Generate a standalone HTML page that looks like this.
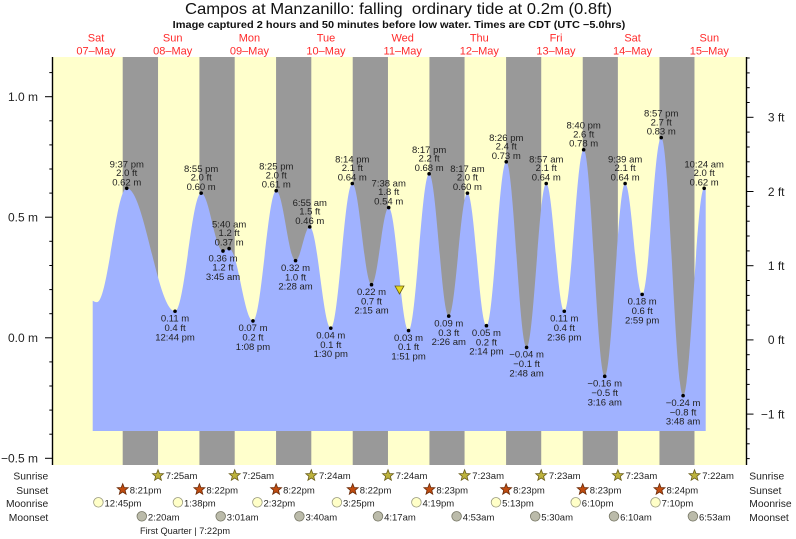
<!DOCTYPE html>
<html><head><meta charset="utf-8"><style>
html,body{margin:0;padding:0;background:#fff;}
svg{display:block;font-family:"Liberation Sans",Arial,sans-serif;}
.lb text{font-size:9.5px;fill:#222;text-anchor:middle;}
.bt{font-size:9.5px;fill:#222;}
.rl{font-size:10.3px;fill:#222;}
</style></head><body>
<svg width="796" height="539" viewBox="0 0 796 539" xmlns="http://www.w3.org/2000/svg">
<rect x="0" y="0" width="796" height="539" fill="#fff"/>
<text x="185" y="14" font-size="16" fill="#111" textLength="427" lengthAdjust="spacingAndGlyphs">Campos at Manzanillo: falling&#160; ordinary tide at 0.2m (0.8ft)</text>
<text x="172.7" y="28" font-size="10" font-weight="bold" fill="#111" textLength="452.6" lengthAdjust="spacingAndGlyphs">Image captured 2 hours and 50 minutes before low water. Times are CDT (UTC −5.0hrs)</text>
<g font-size="11" fill="#ff2a2a" text-anchor="middle">
<text x="96.0" y="41.7">Sat</text><text x="96.0" y="54.5">07–May</text>
<text x="172.7" y="41.7">Sun</text><text x="172.7" y="54.5">08–May</text>
<text x="249.4" y="41.7">Mon</text><text x="249.4" y="54.5">09–May</text>
<text x="326.0" y="41.7">Tue</text><text x="326.0" y="54.5">10–May</text>
<text x="402.7" y="41.7">Wed</text><text x="402.7" y="54.5">11–May</text>
<text x="479.3" y="41.7">Thu</text><text x="479.3" y="54.5">12–May</text>
<text x="556.0" y="41.7">Fri</text><text x="556.0" y="54.5">13–May</text>
<text x="632.6" y="41.7">Sat</text><text x="632.6" y="54.5">14–May</text>
<text x="709.3" y="41.7">Sun</text><text x="709.3" y="54.5">15–May</text>
</g>
<rect x="53" y="57" width="693" height="408" fill="#ffffcc"/>
<g fill="#999999">
<rect x="122.70" y="57" width="35.34" height="408"/>
<rect x="199.41" y="57" width="35.29" height="408"/>
<rect x="276.06" y="57" width="35.24" height="408"/>
<rect x="352.72" y="57" width="35.24" height="408"/>
<rect x="429.43" y="57" width="35.13" height="408"/>
<rect x="506.08" y="57" width="35.14" height="408"/>
<rect x="582.74" y="57" width="35.13" height="408"/>
<rect x="659.45" y="57" width="35.03" height="408"/>
</g>
<path fill="#a0b2ff" d="M92.7 431 L92.7 300.7 C94.5 301.8 95.5 302.1 97 302.1
C107.81 302.1 115.93 188.3 126.74 188.3
C144.29 188.3 157.48 311.25 175.03 311.25
C184.53 311.25 191.66 193.13 201.16 193.13
C209.09 193.13 215.06 250.98 222.99 250.98
C225.21 250.98 226.89 248.57 229.11 248.57
C237.78 248.57 244.29 320.89 252.96 320.89
C261.41 320.89 267.77 190.72 276.22 190.72
C283.24 190.72 288.53 260.63 295.55 260.63
C300.71 260.63 304.60 226.88 309.76 226.88
C317.40 226.88 323.15 328.13 330.79 328.13
C338.60 328.13 344.48 183.49 352.29 183.49
C359.27 183.49 364.53 284.73 371.51 284.73
C377.76 284.73 382.45 207.59 388.70 207.59
C395.92 207.59 401.34 330.54 408.56 330.54
C416.03 330.54 421.64 173.84 429.11 173.84
C436.25 173.84 441.61 316.07 448.75 316.07
C455.54 316.07 460.65 193.13 467.44 193.13
C474.34 193.13 479.54 325.72 486.44 325.72
C493.64 325.72 499.04 161.79 506.24 161.79
C513.63 161.79 519.19 347.41 526.58 347.41
C533.72 347.41 539.08 183.49 546.22 183.49
C552.78 183.49 557.71 311.25 564.27 311.25
C571.31 311.25 576.61 149.74 583.65 149.74
C591.31 149.74 597.07 376.34 604.73 376.34
C612.14 376.34 617.70 183.49 625.11 183.49
C631.30 183.49 635.96 294.38 642.15 294.38
C649.08 294.38 654.28 137.68 661.21 137.68
C669.16 137.68 675.14 395.63 683.09 395.63
C690.75 395.63 696.51 188.30 704.17 188.30
L705.7 188.5 L705.7 431 Z"/>
<!-- axes -->
<g stroke="#000" stroke-width="1.4">
<line x1="52.5" y1="57" x2="52.5" y2="465"/>
<line x1="746.5" y1="57" x2="746.5" y2="465"/>
</g>
<g stroke="#000" stroke-width="1">
<line x1="45" y1="96.7" x2="52.5" y2="96.7"/><line x1="45" y1="217.2" x2="52.5" y2="217.2"/><line x1="45" y1="337.8" x2="52.5" y2="337.8"/><line x1="45" y1="458.3" x2="52.5" y2="458.3"/>
<line x1="49.3" y1="72.6" x2="52.5" y2="72.6"/><line x1="49.3" y1="120.8" x2="52.5" y2="120.8"/><line x1="49.3" y1="144.9" x2="52.5" y2="144.9"/><line x1="49.3" y1="169.0" x2="52.5" y2="169.0"/><line x1="49.3" y1="193.1" x2="52.5" y2="193.1"/><line x1="49.3" y1="241.3" x2="52.5" y2="241.3"/><line x1="49.3" y1="265.5" x2="52.5" y2="265.5"/><line x1="49.3" y1="289.6" x2="52.5" y2="289.6"/><line x1="49.3" y1="313.7" x2="52.5" y2="313.7"/><line x1="49.3" y1="361.9" x2="52.5" y2="361.9"/><line x1="49.3" y1="386.0" x2="52.5" y2="386.0"/><line x1="49.3" y1="410.1" x2="52.5" y2="410.1"/><line x1="49.3" y1="434.2" x2="52.5" y2="434.2"/>
<line x1="746.5" y1="117.3" x2="753.5" y2="117.3"/><line x1="746.5" y1="191.5" x2="753.5" y2="191.5"/><line x1="746.5" y1="265.7" x2="753.5" y2="265.7"/><line x1="746.5" y1="339.9" x2="753.5" y2="339.9"/><line x1="746.5" y1="414.1" x2="753.5" y2="414.1"/>
<line x1="746.5" y1="58.0" x2="749.7" y2="58.0"/><line x1="746.5" y1="72.9" x2="749.7" y2="72.9"/><line x1="746.5" y1="87.7" x2="749.7" y2="87.7"/><line x1="746.5" y1="102.5" x2="749.7" y2="102.5"/>
<line x1="746.5" y1="132.1" x2="749.7" y2="132.1"/><line x1="746.5" y1="147.0" x2="749.7" y2="147.0"/><line x1="746.5" y1="161.8" x2="749.7" y2="161.8"/><line x1="746.5" y1="176.7" x2="749.7" y2="176.7"/>
<line x1="746.5" y1="206.3" x2="749.7" y2="206.3"/><line x1="746.5" y1="221.2" x2="749.7" y2="221.2"/><line x1="746.5" y1="236.0" x2="749.7" y2="236.0"/><line x1="746.5" y1="250.9" x2="749.7" y2="250.9"/>
<line x1="746.5" y1="280.5" x2="749.7" y2="280.5"/><line x1="746.5" y1="295.4" x2="749.7" y2="295.4"/><line x1="746.5" y1="310.2" x2="749.7" y2="310.2"/><line x1="746.5" y1="325.1" x2="749.7" y2="325.1"/>
<line x1="746.5" y1="354.7" x2="749.7" y2="354.7"/><line x1="746.5" y1="369.6" x2="749.7" y2="369.6"/><line x1="746.5" y1="384.4" x2="749.7" y2="384.4"/><line x1="746.5" y1="399.3" x2="749.7" y2="399.3"/>
<line x1="746.5" y1="428.9" x2="749.7" y2="428.9"/><line x1="746.5" y1="443.8" x2="749.7" y2="443.8"/><line x1="746.5" y1="458.6" x2="749.7" y2="458.6"/>
</g>
<g font-size="12" fill="#222" text-anchor="end">
<text x="38" y="101">1.0 m</text><text x="38" y="221.5">0.5 m</text><text x="38" y="342">0.0 m</text><text x="38" y="462.5">−0.5 m</text>
<text x="784.5" y="121.6">3 ft</text><text x="784.5" y="195.8">2 ft</text><text x="784.5" y="270">1 ft</text><text x="784.5" y="344.2">0 ft</text><text x="784.5" y="418.4">−1 ft</text>
</g>
<!-- high labels -->
<g class="lb">
<g transform="translate(126.74,188.3)"><text y="-21">9:37 pm</text><text y="-12.4">2.0 ft</text><text y="-3">0.62 m</text><circle r="1.8" fill="#000"/></g>
<g transform="translate(201.16,193.13)"><text y="-21">8:55 pm</text><text y="-12.4">2.0 ft</text><text y="-3">0.60 m</text><circle r="1.8" fill="#000"/></g>
<g transform="translate(229.11,248.57)"><text y="-21">5:40 am</text><text y="-12.4">1.2 ft</text><text y="-3">0.37 m</text><circle r="1.8" fill="#000"/></g>
<g transform="translate(276.22,190.72)"><text y="-21">8:25 pm</text><text y="-12.4">2.0 ft</text><text y="-3">0.61 m</text><circle r="1.8" fill="#000"/></g>
<g transform="translate(309.76,226.88)"><text y="-21">6:55 am</text><text y="-12.4">1.5 ft</text><text y="-3">0.46 m</text><circle r="1.8" fill="#000"/></g>
<g transform="translate(352.29,183.49)"><text y="-21">8:14 pm</text><text y="-12.4">2.1 ft</text><text y="-3">0.64 m</text><circle r="1.8" fill="#000"/></g>
<g transform="translate(388.70,207.59)"><text y="-21">7:38 am</text><text y="-12.4">1.8 ft</text><text y="-3">0.54 m</text><circle r="1.8" fill="#000"/></g>
<g transform="translate(429.11,173.84)"><text y="-21">8:17 pm</text><text y="-12.4">2.2 ft</text><text y="-3">0.68 m</text><circle r="1.8" fill="#000"/></g>
<g transform="translate(467.44,193.13)"><text y="-21">8:17 am</text><text y="-12.4">2.0 ft</text><text y="-3">0.60 m</text><circle r="1.8" fill="#000"/></g>
<g transform="translate(506.24,161.79)"><text y="-21">8:26 pm</text><text y="-12.4">2.4 ft</text><text y="-3">0.73 m</text><circle r="1.8" fill="#000"/></g>
<g transform="translate(546.22,183.49)"><text y="-21">8:57 am</text><text y="-12.4">2.1 ft</text><text y="-3">0.64 m</text><circle r="1.8" fill="#000"/></g>
<g transform="translate(583.65,149.74)"><text y="-21">8:40 pm</text><text y="-12.4">2.6 ft</text><text y="-3">0.78 m</text><circle r="1.8" fill="#000"/></g>
<g transform="translate(625.11,183.49)"><text y="-21">9:39 am</text><text y="-12.4">2.1 ft</text><text y="-3">0.64 m</text><circle r="1.8" fill="#000"/></g>
<g transform="translate(661.21,137.68)"><text y="-21">8:57 pm</text><text y="-12.4">2.7 ft</text><text y="-3">0.83 m</text><circle r="1.8" fill="#000"/></g>
<g transform="translate(704.17,188.30)"><text y="-21">10:24 am</text><text y="-12.4">2.0 ft</text><text y="-3">0.62 m</text><circle r="1.8" fill="#000"/></g>
<!-- lows -->
<g transform="translate(175.03,311.25)"><circle r="1.8" fill="#000"/><text y="10.3">0.11 m</text><text y="19.7">0.4 ft</text><text y="29">12:44 pm</text></g>
<g transform="translate(222.99,250.98)"><circle r="1.8" fill="#000"/><text y="10.3">0.36 m</text><text y="19.7">1.2 ft</text><text y="29">3:45 am</text></g>
<g transform="translate(252.96,320.89)"><circle r="1.8" fill="#000"/><text y="10.3">0.07 m</text><text y="19.7">0.2 ft</text><text y="29">1:08 pm</text></g>
<g transform="translate(295.55,260.63)"><circle r="1.8" fill="#000"/><text y="10.3">0.32 m</text><text y="19.7">1.0 ft</text><text y="29">2:28 am</text></g>
<g transform="translate(330.79,328.13)"><circle r="1.8" fill="#000"/><text y="10.3">0.04 m</text><text y="19.7">0.1 ft</text><text y="29">1:30 pm</text></g>
<g transform="translate(371.51,284.73)"><circle r="1.8" fill="#000"/><text y="10.3">0.22 m</text><text y="19.7">0.7 ft</text><text y="29">2:15 am</text></g>
<g transform="translate(408.56,330.54)"><circle r="1.8" fill="#000"/><text y="10.3">0.03 m</text><text y="19.7">0.1 ft</text><text y="29">1:51 pm</text></g>
<g transform="translate(448.75,316.07)"><circle r="1.8" fill="#000"/><text y="10.3">0.09 m</text><text y="19.7">0.3 ft</text><text y="29">2:26 am</text></g>
<g transform="translate(486.44,325.72)"><circle r="1.8" fill="#000"/><text y="10.3">0.05 m</text><text y="19.7">0.2 ft</text><text y="29">2:14 pm</text></g>
<g transform="translate(526.58,347.41)"><circle r="1.8" fill="#000"/><text y="10.3">−0.04 m</text><text y="19.7">−0.1 ft</text><text y="29">2:48 am</text></g>
<g transform="translate(564.27,311.25)"><circle r="1.8" fill="#000"/><text y="10.3">0.11 m</text><text y="19.7">0.4 ft</text><text y="29">2:36 pm</text></g>
<g transform="translate(604.73,376.34)"><circle r="1.8" fill="#000"/><text y="10.3">−0.16 m</text><text y="19.7">−0.5 ft</text><text y="29">3:16 am</text></g>
<g transform="translate(642.15,294.38)"><circle r="1.8" fill="#000"/><text y="10.3">0.18 m</text><text y="19.7">0.6 ft</text><text y="29">2:59 pm</text></g>
<g transform="translate(683.09,395.63)"><circle r="1.8" fill="#000"/><text y="10.3">−0.24 m</text><text y="19.7">−0.8 ft</text><text y="29">3:48 am</text></g>
</g>
<!-- current marker -->
<polygon points="395,286 404,286 399.5,294" fill="#e6d820" stroke="#6b6010" stroke-width="0.8"/>
<!-- bottom rows -->
<defs>
<polygon id="star" points="0,-5.8 1.5,-2 5.5,-1.8 2.4,0.8 3.4,4.7 0,2.5 -3.4,4.7 -2.4,0.8 -5.5,-1.8 -1.5,-2"/>
</defs>
<g class="rl" text-anchor="end">
<text x="48.3" y="479.5">Sunrise</text><text x="48.3" y="493.8">Sunset</text><text x="48.3" y="507.2">Moonrise</text><text x="48.3" y="521.2">Moonset</text>
</g>
<g class="rl">
<text x="749.3" y="479.5">Sunrise</text><text x="749.3" y="493.8">Sunset</text><text x="749.3" y="507.2">Moonrise</text><text x="749.3" y="521.2">Moonset</text>
</g>
<g fill="#bcb23c" stroke="#6a5e1c" stroke-width="0.8">
<use href="#star" x="158.0" y="475.5"/><use href="#star" x="234.7" y="475.5"/><use href="#star" x="311.3" y="475.5"/><use href="#star" x="388.0" y="475.5"/><use href="#star" x="464.6" y="475.5"/><use href="#star" x="541.2" y="475.5"/><use href="#star" x="617.9" y="475.5"/><use href="#star" x="694.5" y="475.5"/>
</g>
<g fill="#c04c10" stroke="#6a2a08" stroke-width="0.8">
<use href="#star" x="122.7" y="489.5"/><use href="#star" x="199.4" y="489.5"/><use href="#star" x="276.1" y="489.5"/><use href="#star" x="352.7" y="489.5"/><use href="#star" x="429.4" y="489.5"/><use href="#star" x="506.1" y="489.5"/><use href="#star" x="582.7" y="489.5"/><use href="#star" x="659.5" y="489.5"/>
</g>
<g fill="#ffffc8" stroke="#9a9a80" stroke-width="0.8">
<circle cx="98.4" cy="502.3" r="4.8"/><circle cx="177.9" cy="502.3" r="4.8"/><circle cx="257.4" cy="502.3" r="4.8"/><circle cx="336.9" cy="502.3" r="4.8"/><circle cx="416.4" cy="502.3" r="4.8"/><circle cx="496.0" cy="502.3" r="4.8"/><circle cx="575.7" cy="502.3" r="4.8"/><circle cx="655.5" cy="502.3" r="4.8"/>
</g>
<g fill="#bbbbaa" stroke="#777766" stroke-width="0.8">
<circle cx="141.8" cy="516.3" r="4.8"/><circle cx="220.7" cy="516.3" r="4.8"/><circle cx="299.4" cy="516.3" r="4.8"/><circle cx="378.0" cy="516.3" r="4.8"/><circle cx="456.6" cy="516.3" r="4.8"/><circle cx="535.2" cy="516.3" r="4.8"/><circle cx="614.0" cy="516.3" r="4.8"/><circle cx="692.9" cy="516.3" r="4.8"/>
</g>
<g class="bt">
<text x="165.7" y="479">7:25am</text><text x="242.4" y="479">7:25am</text><text x="319.0" y="479">7:24am</text><text x="395.7" y="479">7:24am</text><text x="472.3" y="479">7:23am</text><text x="548.9" y="479">7:23am</text><text x="625.6" y="479">7:23am</text><text x="702.2" y="479">7:22am</text>
<text x="129.7" y="493.3">8:21pm</text><text x="206.4" y="493.3">8:22pm</text><text x="283.1" y="493.3">8:22pm</text><text x="359.7" y="493.3">8:22pm</text><text x="436.4" y="493.3">8:23pm</text><text x="513.1" y="493.3">8:23pm</text><text x="589.7" y="493.3">8:23pm</text><text x="666.5" y="493.3">8:24pm</text>
<text x="104.5" y="506.5">12:45pm</text><text x="184.0" y="506.5">1:38pm</text><text x="263.5" y="506.5">2:32pm</text><text x="343.0" y="506.5">3:25pm</text><text x="422.5" y="506.5">4:19pm</text><text x="502.1" y="506.5">5:13pm</text><text x="581.8" y="506.5">6:10pm</text><text x="661.6" y="506.5">7:10pm</text>
<text x="147.9" y="520.5">2:20am</text><text x="226.8" y="520.5">3:01am</text><text x="305.5" y="520.5">3:40am</text><text x="384.1" y="520.5">4:17am</text><text x="462.7" y="520.5">4:53am</text><text x="541.3" y="520.5">5:30am</text><text x="620.1" y="520.5">6:10am</text><text x="699.0" y="520.5">6:53am</text>
<text x="140" y="534" textLength="90" lengthAdjust="spacingAndGlyphs">First Quarter | 7:22pm</text>
</g>
</svg>
</body></html>
